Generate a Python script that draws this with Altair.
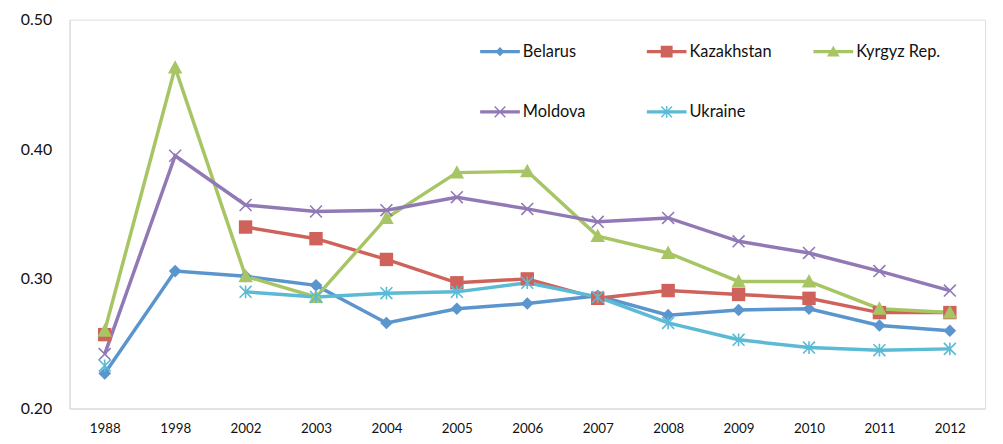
import math
import altair as alt
import pandas as pd

years = ["1988", "1998", "2002", "2003", "2004", "2005", "2006",
         "2007", "2008", "2009", "2010", "2011", "2012"]
series_names = ["Belarus", "Kazakhstan", "Kyrgyz Rep.", "Moldova", "Ukraine"]

belarus = [0.227, 0.306, 0.302, 0.295, 0.266, 0.277, 0.281, 0.287, 0.272, 0.276, 0.277, 0.264, 0.260]
kazakhstan = [0.257, None, 0.340, 0.331, 0.315, 0.297, 0.300, 0.285, 0.291, 0.288, 0.285, 0.274, 0.274]
kyrgyz = [0.260, 0.463, 0.302, 0.286, 0.347, 0.382, 0.383, 0.333, 0.320, 0.298, 0.298, 0.277, 0.274]
moldova = [0.242, 0.395, 0.357, 0.352, 0.353, 0.363, 0.354, 0.344, 0.347, 0.329, 0.320, 0.306, 0.291]
ukraine = [0.233, None, 0.290, 0.286, 0.289, 0.290, 0.297, 0.286, 0.266, 0.253, 0.247, 0.245, 0.246]

y_ticks = [0.2, 0.3, 0.4, 0.5]

colors = ["#5B95CD", "#D0625C", "#A8C565", "#9079B5", "#5BBAD4"]

# marker glyphs (plot)
marker_paths = {
    "Belarus": "M0,-0.85L0.85,0L0,0.85L-0.85,0Z",
    "Kazakhstan": "M-0.9,-0.9L0.9,-0.9L0.9,0.9L-0.9,0.9Z",
    "Kyrgyz Rep.": "M0,-1L0.97,0.8L-0.97,0.8Z",
    "Moldova": "M-0.8,-0.8L0.8,0.8M-0.8,0.8L0.8,-0.8",
    "Ukraine": "M-0.8,-0.8L0.8,0.8M-0.8,0.8L0.8,-0.8M0,-0.85L0,0.85",
}
filled_series = ["Belarus", "Kazakhstan", "Kyrgyz Rep."]


# legend glyphs: horizontal line + marker, all as filled polygons (same winding)
def bar(half_len, half_thick, angle_deg):
    a = math.radians(angle_deg)
    ux, uy = math.cos(a), math.sin(a)
    nx, ny = -uy, ux
    pts = [(-half_len * ux - half_thick * nx, -half_len * uy - half_thick * ny),
           (half_len * ux - half_thick * nx, half_len * uy - half_thick * ny),
           (half_len * ux + half_thick * nx, half_len * uy + half_thick * ny),
           (-half_len * ux + half_thick * nx, -half_len * uy + half_thick * ny)]
    return "M" + "L".join(f"{x:.4f},{y:.4f}" for x, y in pts) + "Z"


leg_line = bar(1.0, 0.085, 0)
xr, xt = 0.38, 0.035
legend_paths = [
    leg_line + "M0,-0.23L0.23,0L0,0.23L-0.23,0Z",
    leg_line + "M-0.3,-0.3L0.3,-0.3L0.3,0.3L-0.3,0.3Z",
    leg_line + "M0,-0.3L0.32,0.24L-0.32,0.24Z",
    leg_line + bar(xr, xt, 45) + bar(xr, xt, -45),
    leg_line + bar(xr, xt, 45) + bar(xr, xt, -45) + bar(0.3, xt, 90),
]

rows = []
for name, vals in zip(series_names, [belarus, kazakhstan, kyrgyz, moldova, ukraine]):
    seg = 0
    for yr, v in zip(years, vals):
        if v is None:
            seg += 1
            continue
        rows.append({"year": yr, "series": name, "gini": v,
                     "seg": f"{name}-{seg}", "marker": marker_paths[name],
                     "filled": name in filled_series})
df = pd.DataFrame(rows)

FONT = "Lato"
TXT = "#111111"

x_enc = alt.X("year:N", sort=years,
              axis=alt.Axis(title=None, labelAngle=0, ticks=False, grid=False,
                            domainColor="#D9D9D9", labelFont=FONT, labelFontSize=13.5,
                            labelColor=TXT, labelPadding=13))
y_enc = alt.Y("gini:Q", scale=alt.Scale(domain=[0.2, 0.5], nice=False, zero=False),
              axis=alt.Axis(values=y_ticks, format=".2f", title=None, ticks=False, grid=False,
                            domainColor="#D9D9D9", labelFont=FONT, labelFontSize=16,
                            labelColor=TXT, labelPadding=18))


def data_scale():
    # domain comes from the data (alphabetical == series_names order)
    return alt.Scale(range=colors)


base = alt.Chart(df)

# legend-only layer: draws nothing (empty after filter), its scales have explicit domains
legend_layer = base.transform_filter("datum.gini > 1").mark_point(filled=True, opacity=1).encode(
    x=x_enc, y=y_enc,
    color=alt.Color("series:N", scale=alt.Scale(domain=series_names, range=colors),
                    legend=alt.Legend(title=None, orient="none", legendX=413, legendY=11,
                                      columns=3, direction="horizontal", symbolSize=1600,
                                      labelFont=FONT, labelFontSize=16.5, labelColor=TXT,
                                      gridAlign="all", columnPadding=39, rowPadding=31,
                                      labelOffset=2, symbolOffset=0, padding=0)),
    shape=alt.Shape("series:N", scale=alt.Scale(domain=series_names, range=legend_paths)),
)

lines = base.mark_line(strokeWidth=3.5).encode(
    x=x_enc, y=y_enc,
    stroke=alt.Stroke("series:N", scale=data_scale(), legend=None),
    detail="seg:N",
)

filled_pts = base.transform_filter("datum.filled").mark_point(
    filled=True, size=225, opacity=1, strokeWidth=0).encode(
    x=x_enc, y=y_enc,
    fill=alt.Fill("series:N", scale=data_scale(), legend=None),
    shape=alt.Shape("marker:N", scale=None),
)

open_pts = base.transform_filter("!datum.filled").mark_point(
    filled=False, size=225, opacity=1, strokeWidth=1.6).encode(
    x=x_enc, y=y_enc,
    stroke=alt.Stroke("series:N", scale=data_scale(), legend=None),
    shape=alt.Shape("marker:N", scale=None),
)

chart = alt.layer(legend_layer, lines, filled_pts, open_pts).properties(
    width=923, height=392,
    padding={"left": 62, "top": 10, "right": 10, "bottom": 30},
    autosize=alt.AutoSizeParams(type="none"),
).configure_view(stroke=None).configure(background="white")

chart.save("out.html", embed_options={"renderer": "svg", "actions": False})
